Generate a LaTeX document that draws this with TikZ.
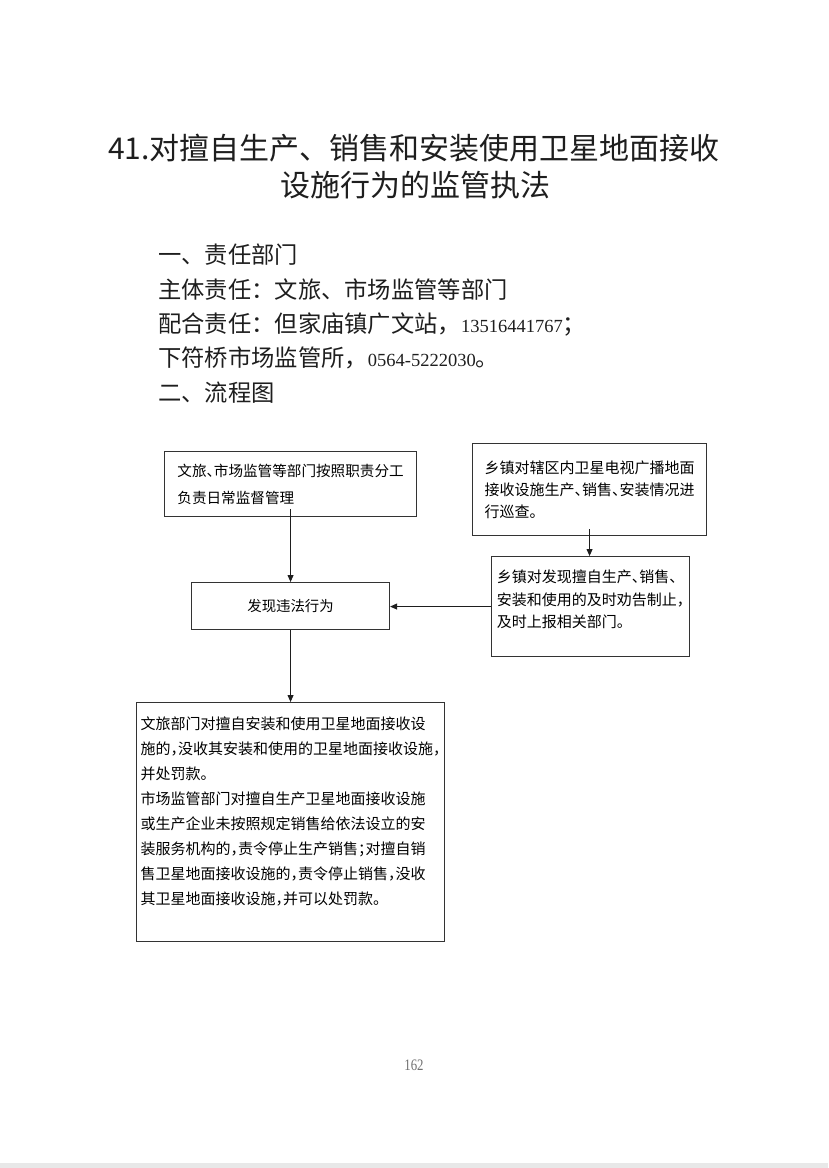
\documentclass[tikz,border=0pt]{standalone}
\usepackage{fontspec}
\setmainfont{Noto Sans CJK SC}
\newfontfamily\boxfont[RawFeature=+halt]{Noto Sans CJK SC}
\newfontfamily\numfont{Liberation Serif}
\newfontfamily\pagefont[FakeStretch=0.8]{Liberation Serif}
\usetikzlibrary{arrows.meta}
\definecolor{ink}{HTML}{1E1E1E}
\definecolor{frame}{HTML}{333333}
\definecolor{folio}{HTML}{707070}
\newcommand{\telno}[1]{{\numfont\fontsize{18.5}{20}\selectfont #1}}
\newcommand{\padbot}[1]{\rule[-#1]{0pt}{#1}}

\begin{document}
\begin{tikzpicture}[x=1pt, y=-1pt,
  box/.style={draw=frame, line width=1.1pt, align=left, inner sep=0pt, anchor=north west},
  flow/.style={draw=ink, line width=0.9pt, -{Triangle[length=7pt,width=6pt]}},
  title/.style={inner sep=0pt, text height=27pt, text depth=4.2pt, text=ink, font=\fontsize{30}{34}\selectfont},
  bodyline/.style={anchor=west, inner sep=0pt, text height=21pt, text depth=3.3pt, text=ink, font=\fontsize{23.3}{28}\selectfont}]
  \useasboundingbox (0,0) rectangle (828,1168);
  \fill[black!9] (0,1163) rectangle (828,1168);

  \node[title] (title1) at (414,148) {41.对擅自生产、销售和安装使用卫星地面接收};
  \node[title] (title2) at (415,185) {设施行为的监管执法};

  \node[bodyline] (head1) at (158,255) {一、责任部门};
  \node[bodyline] (main) at (158,290) {主体责任：文旅、市场监管等部门};
  \node[bodyline] (assist) at (158,324) {配合责任：但家庙镇广文站，\telno{13516441767}；};
  \node[bodyline] (assist2) at (158,358) {下符桥市场监管所，\telno{0564-5222030}。};
  \node[bodyline] (head2) at (158,393) {二、流程图};

  \node[box, minimum width=252, minimum height=65, font=\boxfont\fontsize{14.6}{27}\selectfont] (duty) at (164,451)
    {文旅、市场监管等部门按照职责分工\\负责日常监督管理};
  \node[box, minimum width=234, minimum height=92, font=\boxfont\fontsize{15}{22}\selectfont] (patrol) at (472,443)
    {乡镇对辖区内卫星电视广播地面\\接收设施生产、销售、安装情况进\\行巡查。};
  \node[box, minimum width=198, minimum height=100, font=\boxfont\fontsize{15}{22.5}\selectfont] (stop) at (491,556)
    {乡镇对发现擅自生产、销售、\\安装和使用的及时劝告制止，\\及时上报相关部门。\padbot{15pt}};
  \node[box, minimum width=198, minimum height=47, font=\boxfont\fontsize{14.4}{18}\selectfont] (find) at (191,582)
    {发现违法行为};
  \node[box, minimum width=308, minimum height=239, font=\boxfont\fontsize{15}{25}\selectfont] (penalty) at (136,702)
    {文旅部门对擅自安装和使用卫星地面接收设\\施的，没收其安装和使用的卫星地面接收设施，\\并处罚款。\\市场监管部门对擅自生产卫星地面接收设施\\或生产企业未按照规定销售给依法设立的安\\装服务机构的，责令停止生产销售；对擅自销\\售卫星地面接收设施的，责令停止销售，没收\\其卫星地面接收设施，并可以处罚款。\padbot{23pt}};

  \draw[flow] ([yshift=8pt]duty.south) -- (find.north);
  \draw[flow] ([yshift=7pt]patrol.south) -- (patrol.south |- stop.north);
  \draw[flow] (stop.west) -- (stop.west -| find.east);
  \draw[flow] (find.south) -- (penalty.north);

  \node[font=\pagefont\fontsize{16}{18}\selectfont, text=folio] (folio) at (414,1065) {162};
\end{tikzpicture}
\end{document}
